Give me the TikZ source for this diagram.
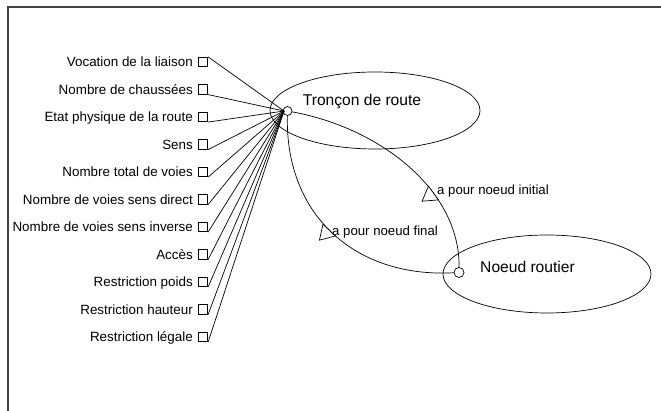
\documentclass[tikz,border=0pt]{standalone}
\usepackage{fontspec}
\setmainfont{Liberation Sans}
\usetikzlibrary{calc,shapes.geometric}
\begin{document}
\begin{tikzpicture}[x=1pt,y=1pt,
  conn/.style={line width=0.7pt},
  attrbox/.style={draw,line width=0.7pt,minimum size=9.5pt,inner sep=0pt},
  attrlabel/.style={anchor=base east,inner sep=0pt,font=\fontsize{13.4}{15}\selectfont},
  classell/.style={draw,ellipse,line width=0.7pt,inner sep=0pt},
  classlabel/.style={anchor=base,inner sep=0pt,font=\fontsize{15.6}{18}\selectfont},
  edgelabel/.style={anchor=base west,inner sep=0pt,font=\fontsize{13.2}{15}\selectfont},
  hub/.style={draw,circle,line width=0.7pt,inner sep=0pt},
  tri/.style={draw,fill=white,line width=0.7pt,line join=miter}]
\useasboundingbox (0,0) rectangle (661,411);
% frame
\draw[line width=1.3pt, black!75] (8,0) -- (8,404) -- (661,404);
% classes
\node[classell,minimum width=210pt,minimum height=77pt] (tr) at (375,300.5) {};
\node[classlabel] (trl) at (362,305) {Tronçon de route};
\node[classell,minimum width=208pt,minimum height=78pt] (nr) at (547,137) {};
\node[classlabel] (nrl) at (527.5,138.7) {Noeud routier};
% hubs
\node[hub,minimum size=9pt] (h1) at (287.5,300) {};
\node[hub,minimum size=10pt] (h2) at (459,138.5) {};
\coordinate (conv) at (284,300);
% attributes
\foreach \t [count=\i] in {Vocation de la liaison, Nombre de chaussées, Etat physique de la route, Sens, Nombre total de voies, Nombre de voies sens direct, Nombre de voies sens inverse, Accès, Restriction poids, Restriction hauteur, Restriction légale} {
  \pgfmathsetmacro\yy{349-27.5*(\i-1)}
  \node[attrbox] (b\i) at (203,\yy) {};
  \node[attrlabel] (l\i) at (193,\yy-4.7) {\t};
}
\draw[conn] (b1.north east) -- (conv);
\foreach \i in {2,...,11} \draw[conn] (b\i.south east) -- (conv);
% relations
\draw[conn] (h1) .. controls (380,283) and (460,221) .. (h2)
  coordinate[pos=0.65] (ia) coordinate[pos=0.67] (ib);
\draw[conn] (h1) .. controls (285,196) and (355,133) .. (h2)
  coordinate[pos=0.48] (fa) coordinate[pos=0.50] (fb);
\draw[tri] ($(ia)!8.5pt!(ib)$) -- ($(ia)!-8.5pt!(ib)$) -- ($(ia)!14pt!-90:(ib)$) -- cycle;
\draw[tri] ($(fa)!8.5pt!(fb)$) -- ($(fa)!-8.5pt!(fb)$) -- ($(fa)!14pt!-90:(fb)$) -- cycle;
\node[edgelabel] (il) at (437,216.5) {a pour noeud initial};
\node[edgelabel] (fl) at (332,175) {a pour noeud final};
\end{tikzpicture}
\end{document}
